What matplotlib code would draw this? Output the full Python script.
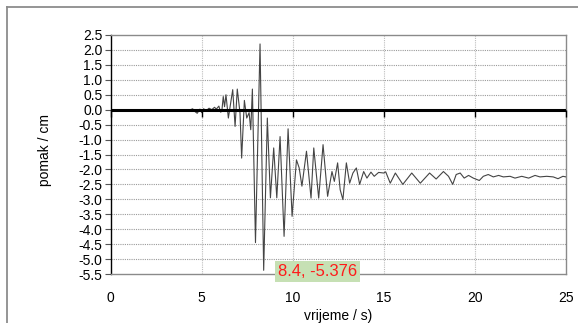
import matplotlib
matplotlib.use("Agg")
import matplotlib.pyplot as plt
from matplotlib.lines import Line2D
from matplotlib.markers import TICKDOWN

plt.rcParams['font.family'] = ['Liberation Sans', 'DejaVu Sans']

# ---- data ----
t = [4.3, 4.5, 4.6, 4.75, 4.9, 5.0, 5.1, 5.25, 5.4, 5.55, 5.7, 5.8, 5.94, 6.03,
     6.1, 6.18, 6.25, 6.33, 6.46, 6.7, 6.83, 6.95, 7.1, 7.19, 7.34, 7.47, 7.6,
     7.69, 7.78, 7.95, 8.2, 8.4, 8.6, 8.77, 8.95, 9.12, 9.3, 9.52, 9.74, 9.96,
     10.2, 10.35, 10.5, 10.75, 11.0, 11.15, 11.42, 11.66, 11.91, 12.15, 12.28,
     12.46, 12.6, 12.75, 12.94, 13.12, 13.3, 13.49, 13.67, 13.89, 14.07, 14.29,
     14.47, 14.71, 14.99, 15.1, 15.35, 15.63, 16.04, 16.53, 17.0, 17.51, 17.87,
     18.27, 18.55, 18.78, 18.97, 19.19, 19.41, 19.65, 19.91, 20.24, 20.46, 20.73,
     21.01, 21.3, 21.56, 21.93, 22.2, 22.57, 22.95, 23.3, 23.57, 23.94, 24.3,
     24.56, 24.83, 25.0]
pomak = [-0.02, 0.03, -0.05, -0.12, 0.02, -0.1, 0.03, -0.03, 0.05, 0.0, 0.08, 0.02,
         0.12, -0.08, -0.06, 0.44, 0.1, 0.5, -0.28, 0.67, -0.56, 0.69, -0.11, -1.62,
         0.31, -0.28, -0.1, -0.67, 0.69, -4.45, 2.2, -5.376, -0.28, -2.95, -1.28,
         -2.95, -0.9, -4.24, -0.64, -3.57, -1.68, -1.95, -2.56, -1.39, -2.96, -1.28,
         -2.96, -1.17, -2.9, -2.07, -2.4, -1.78, -2.68, -3.01, -1.78, -2.46, -2.12,
         -1.95, -2.5, -2.07, -2.29, -2.09, -2.23, -2.1, -2.12, -2.08, -2.46, -2.12,
         -2.5, -2.12, -2.46, -2.12, -2.32, -2.07, -2.23, -2.5, -2.17, -2.12, -2.29,
         -2.2, -2.29, -2.37, -2.23, -2.17, -2.25, -2.2, -2.25, -2.23, -2.29, -2.23,
         -2.29, -2.2, -2.25, -2.23, -2.25, -2.31, -2.23, -2.25]

peak_t, peak_v = 8.4, -5.376

x_ticks = [0, 5, 10, 15, 20, 25]
x_labels = ['0', '5', '10', '15', '20', '25']
y_ticks = [2.5, 2.0, 1.5, 1.0, 0.5, 0.0, -0.5, -1.0, -1.5, -2.0, -2.5, -3.0,
           -3.5, -4.0, -4.5, -5.0, -5.5]
y_labels = ['2.5', '2.0', '1.5', '1.0', '0.5', '0.0', '-0.5', '-1.0', '-1.5',
            '-2.0', '-2.5', '-3.0', '-3.5', '-4.0', '-4.5', '-5.0', '-5.5']

# ---- figure ----
W, H = 578, 323
fig = plt.figure(figsize=(W / 100, H / 100), dpi=100)
fig.patch.set_facecolor('white')

# outer chart border (left and top visible)
fig.add_artist(Line2D([7 / W, 7 / W], [0, 1 - 7 / H], transform=fig.transFigure,
                      color='#8c8c8c', lw=1.3))
fig.add_artist(Line2D([7 / W, 1], [1 - 7 / H, 1 - 7 / H], transform=fig.transFigure,
                      color='#8c8c8c', lw=1.3))

left, right, top, bottom = 110.7, 566, 35, 274
ax = fig.add_axes([left / W, 1 - bottom / H, (right - left) / W, (bottom - top) / H])

ax.set_xlim(0, 25)
ax.set_ylim(-5.5, 2.5)

# gridlines
for yv in y_ticks:
    if yv not in (2.5, -5.5, 0.0):
        ax.axhline(yv, color='#9a9a9a', lw=0.8, ls=(0, (1, 1)), zorder=1)
for xv in x_ticks[1:-1]:
    ax.axvline(xv, color='#bdbdbd', lw=0.8, ls=(0, (1, 1)), zorder=1)

# data line
ax.plot(t, pomak, color='#444444', lw=0.8, zorder=3)

# zero line with tick marks
ax.axhline(0, color='black', lw=2.2, zorder=4)
ax.plot(x_ticks, [0] * len(x_ticks), ls='none', marker=TICKDOWN, ms=5, mew=1.0,
        color='black', zorder=4, clip_on=False)

# spines
for s in ('top', 'right', 'bottom'):
    ax.spines[s].set_color('#8a8a8a')
    ax.spines[s].set_linewidth(1.0)
ax.spines['left'].set_color('black')
ax.spines['left'].set_linewidth(1.0)

ax.set_yticks(y_ticks)
ax.set_yticklabels(y_labels)
ax.set_xticks(x_ticks)
ax.set_xticklabels(x_labels)
ax.tick_params(axis='y', direction='out', length=4, width=0.8, color='#555555',
               pad=2, labelsize=10)
ax.tick_params(axis='x', length=0, pad=12, labelsize=10)

ax.set_xlabel('vrijeme / s)', fontsize=10, labelpad=3)
ax.set_ylabel('pomak / cm', fontsize=10)
ax.yaxis.set_label_coords((52 - left) / (right - left), 0.52)

# data label
ax.annotate(f'{peak_t}, {peak_v}', xy=(peak_t, peak_v), xytext=(38.7, -0.6),
            textcoords='offset points', ha='center', va='center', color='#ff1a1a',
            fontsize=12, annotation_clip=False, zorder=6,
            bbox=dict(boxstyle='square,pad=0.18', fc='#c6e0b4', ec='none'))

fig.savefig('out.png', dpi=100)
